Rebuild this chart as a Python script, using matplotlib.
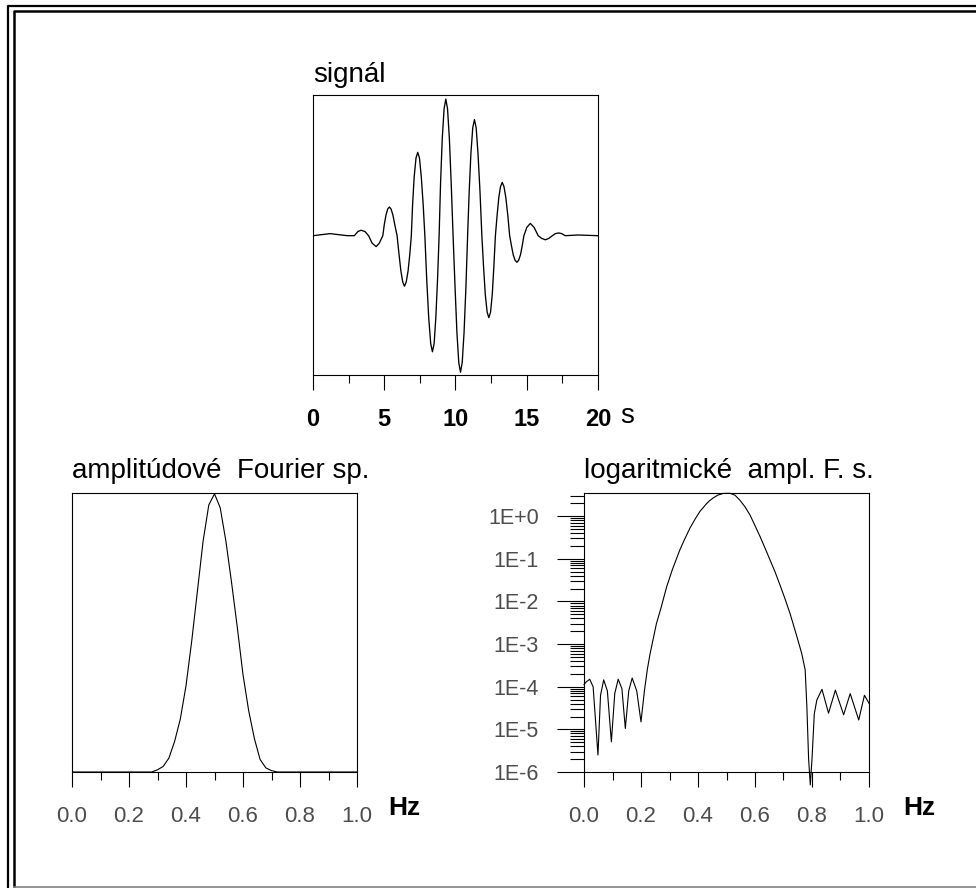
import numpy as np
import matplotlib
matplotlib.use("Agg")
import matplotlib.pyplot as plt
from matplotlib.lines import Line2D
from matplotlib.ticker import LogLocator, NullFormatter, FixedLocator

plt.rcParams['font.family'] = ['Liberation Sans', 'DejaVu Sans']

# signal (s)
sig_t = [0.0, 1.2, 2.0, 2.4, 2.9, 3.15, 3.37, 3.65, 3.9, 4.15, 4.43, 4.65, 4.9,
         5.0, 5.12, 5.24, 5.36, 5.48, 5.61, 5.74, 5.9,
         6.04, 6.17, 6.3, 6.42, 6.54, 6.67, 6.79, 6.9,
         6.99, 7.1, 7.23, 7.35, 7.47, 7.6, 7.73, 7.85,
         7.98, 8.12, 8.26, 8.38, 8.5, 8.62, 8.74, 8.85,
         8.95, 9.07, 9.2, 9.32, 9.44, 9.57, 9.7, 9.83,
         9.97, 10.1, 10.23, 10.35, 10.47, 10.6, 10.73, 10.85,
         10.96, 11.08, 11.21, 11.33, 11.45, 11.58, 11.72, 11.85,
         11.97, 12.09, 12.22, 12.34, 12.46, 12.58, 12.69, 12.8,
         12.92, 13.04, 13.16, 13.28, 13.4, 13.53, 13.67, 13.8,
         13.93, 14.05, 14.18, 14.31, 14.43, 14.56, 14.68, 14.8,
         15.0, 15.25, 15.52, 15.8, 16.05, 16.3, 16.55, 16.8,
         17.0, 17.24, 17.45, 17.7, 18.6, 20.0]
sig_v = [0.0, 0.015, 0.005, 0.0, 0.0, 0.03, 0.04, 0.03, 0.0, -0.055, -0.08, -0.055, 0.0,
         0.08, 0.15, 0.195, 0.21, 0.195, 0.15, 0.08, 0.0,
         -0.14, -0.26, -0.34, -0.37, -0.34, -0.26, -0.14, 0.0,
         0.23, 0.43, 0.57, 0.61, 0.57, 0.43, 0.23, 0.0,
         -0.32, -0.6, -0.79, -0.85, -0.79, -0.6, -0.32, 0.0,
         0.38, 0.71, 0.93, 1.0, 0.93, 0.71, 0.38, 0.0,
         -0.38, -0.71, -0.93, -1.0, -0.93, -0.71, -0.38, 0.0,
         0.32, 0.6, 0.79, 0.85, 0.79, 0.6, 0.32, 0.0,
         -0.23, -0.43, -0.56, -0.60, -0.56, -0.43, -0.23, 0.0,
         0.15, 0.28, 0.36, 0.39, 0.36, 0.28, 0.15, 0.0,
         -0.075, -0.14, -0.18, -0.195, -0.18, -0.14, -0.075, 0.0,
         0.06, 0.09, 0.06, 0.0, -0.02, -0.03, -0.02, 0.0,
         0.015, 0.02, 0.015, 0.0, 0.005, 0.0]

# amplitude Fourier spectrum
spec_f = [0.0, 0.28, 0.30, 0.32, 0.34, 0.36, 0.38, 0.40, 0.42, 0.44, 0.46, 0.48,
          0.50, 0.52, 0.54, 0.56, 0.58, 0.60, 0.62, 0.64, 0.66, 0.68, 0.70, 0.72, 1.0]
spec_a = [0.0, 0.0, 0.008, 0.02, 0.05, 0.11, 0.19, 0.31, 0.47, 0.65, 0.83, 0.96,
          1.0, 0.95, 0.83, 0.68, 0.52, 0.35, 0.22, 0.12, 0.045, 0.015, 0.005, 0.0, 0.0]

# logarithmic amplitude spectrum
log_f = [0.0, 0.008, 0.02, 0.032, 0.049, 0.058, 0.069, 0.082, 0.096, 0.108, 0.12,
         0.133, 0.145, 0.157, 0.169, 0.185, 0.2, 0.212, 0.222, 0.232, 0.254, 0.27,
         0.29, 0.31, 0.336, 0.35, 0.372, 0.39, 0.407, 0.43, 0.44, 0.454, 0.47, 0.489,
         0.512, 0.53, 0.547, 0.565, 0.583, 0.60, 0.618, 0.635, 0.653, 0.67, 0.688,
         0.705, 0.723, 0.747, 0.764, 0.776, 0.782, 0.788, 0.794, 0.800, 0.808, 0.817,
         0.835, 0.858, 0.882, 0.911, 0.934, 0.964, 0.984, 1.0]
log_a = [1.12e-4, 1.3e-4, 1.5e-4, 1.0e-4, 2.5e-6, 6.3e-5, 1.45e-4, 8e-5, 5.1e-6, 7e-5, 1.5e-4,
         9e-5, 1.05e-5, 8e-5, 1.6e-4, 8e-5, 1.5e-5, 8e-5, 2.5e-4, 6e-4, 3e-3, 7e-3,
         2.2e-2, 5.6e-2, 0.16, 0.26, 0.53, 0.86, 1.3, 1.97, 2.29, 2.7, 3.13, 3.42,
         3.45, 3.1, 2.37, 1.66, 1.05, 0.6, 0.33, 0.18, 0.093, 0.05, 0.024,
         0.0117, 5.2e-3, 1.5e-3, 6e-4, 2.5e-4, 3.4e-5, 2.1e-6, 5e-7, 2e-6, 2.3e-5, 4.9e-5,
         8.7e-5, 2.4e-5, 8.3e-5, 2.2e-5, 6.9e-5, 1.66e-5, 6.3e-5, 4.1e-5]

sig_ticks = [0, 5, 10, 15, 20]
hz_ticks = [0.0, 0.2, 0.4, 0.6, 0.8, 1.0]
hz_labels = ['0.0', '0.2', '0.4', '0.6', '0.8', '1.0']
log_ticks = [1e0, 1e-1, 1e-2, 1e-3, 1e-4, 1e-5, 1e-6]
log_labels = ['1E+0', '1E-1', '1E-2', '1E-3', '1E-4', '1E-5', '1E-6']

W, H = 976, 888
fig = plt.figure(figsize=(W / 100, H / 100), dpi=100)


def box(l, t, r, b):
    return [l / W, 1 - b / H, (r - l) / W, (b - t) / H]


lw = 0.8
gray = '#4d4d4d'

# top: signal
ax1 = fig.add_axes(box(313, 95, 598, 375))
ax1.plot(sig_t, sig_v, color='black', lw=0.95)
ax1.set_xlim(0, 20)
ax1.set_ylim(-1.02, 1.03)
ax1.set_yticks([])
ax1.set_xticks(sig_ticks, [str(v) for v in sig_ticks], fontweight='bold')
ax1.xaxis.set_minor_locator(FixedLocator([2.5, 7.5, 12.5, 17.5]))
ax1.tick_params(axis='x', which='major', length=10.8, width=lw, pad=13, labelsize=17)
ax1.tick_params(axis='x', which='minor', length=5.8, width=lw)
ax1.text(0, 1.045, 'signál', transform=ax1.transAxes, fontsize=20, ha='left',
         va='baseline')

# bottom left: amplitude spectrum
ax2 = fig.add_axes(box(72, 493, 357, 772))
ax2.plot(spec_f, spec_a, color='black', lw=lw)
ax2.set_xlim(0, 1)
ax2.set_ylim(0, 1.003)
ax2.set_yticks([])
ax2.set_xticks(hz_ticks, hz_labels)
ax2.xaxis.set_minor_locator(FixedLocator([0.1, 0.3, 0.5, 0.7, 0.9]))
ax2.tick_params(axis='x', which='major', length=10.8, width=lw, pad=14,
                labelsize=16, labelcolor=gray)
ax2.tick_params(axis='x', which='minor', length=5.8, width=lw)
ax2.text(0, 1.054, 'amplitúdové  Fourier sp.', transform=ax2.transAxes,
         fontsize=20, ha='left', va='baseline')

# bottom right: log spectrum
ax3 = fig.add_axes(box(584, 493, 869, 772))
ax3.plot(log_f, log_a, color='black', lw=lw, clip_on=False)
ax3.set_yscale('log')
ax3.set_xlim(0, 1)
ax3.set_ylim(1e-6, 3.5)
ax3.set_xticks(hz_ticks, hz_labels)
ax3.xaxis.set_minor_locator(FixedLocator([0.1, 0.3, 0.5, 0.7, 0.9]))
ax3.set_yticks(log_ticks, log_labels)
ax3.yaxis.set_minor_locator(LogLocator(base=10, subs=np.arange(2, 10), numticks=20))
ax3.yaxis.set_minor_formatter(NullFormatter())
ax3.tick_params(axis='x', which='major', length=10.8, width=lw, pad=14,
                labelsize=16, labelcolor=gray)
ax3.tick_params(axis='x', which='minor', length=5.8, width=lw)
ax3.tick_params(axis='y', which='major', length=19.4, width=lw, pad=13,
                labelsize=15.5, labelcolor=gray)
ax3.tick_params(axis='y', which='minor', length=10, width=lw)
ax3.text(0, 1.054, 'logaritmické  ampl. F. s.', transform=ax3.transAxes,
         fontsize=20, ha='left', va='baseline')

for ax in (ax1, ax2, ax3):
    for sp in ax.spines.values():
        sp.set_linewidth(lw)

# unit labels
fig.text(620 / W, 1 - 423 / H, 's', fontsize=20, ha='left', va='baseline')
fig.text(388 / W, 1 - 815 / H, 'Hz', fontsize=19, fontweight='bold', ha='left', va='baseline')
fig.text(903 / W, 1 - 815 / H, 'Hz', fontsize=19, fontweight='bold', ha='left', va='baseline')

# window frame
frame = fig.add_axes([0, 0, 1, 1], zorder=-1)
frame.set_xlim(0, W)
frame.set_ylim(H, 0)
frame.axis('off')
frame.add_line(Line2D([8, 8, W], [H, 6, 6], color='black', lw=1.6))
frame.add_line(Line2D([14, 14, W], [886, 11.5, 11.5], color='black', lw=1.8))
frame.add_line(Line2D([14, W], [886.5, 886.5], color='#808080', lw=1.2))

fig.savefig('out.png', dpi=100)
